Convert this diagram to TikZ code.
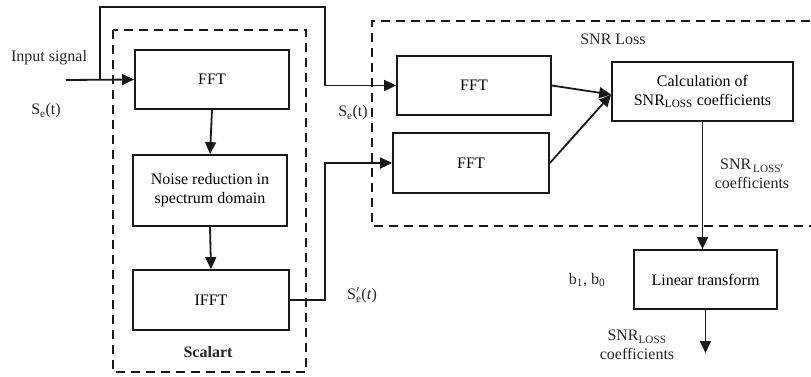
\documentclass[tikz,border=0pt]{standalone}
\usepackage{fontspec}
\setmainfont{Liberation Serif}
\usepackage{tikz}
\usetikzlibrary{arrows.meta,positioning}

\tikzset{
    blk/.style={draw=black!90, line width=1.8pt, fill=white, align=center,
        inner sep=2pt, font=\fontsize{16}{19}\selectfont},
    arr/.style={draw=black!90, line width=1.8pt,
        -{Triangle[length=12pt,width=11pt]}},
    grp/.style={draw=black!90, line width=1.4pt, dash pattern=on 9pt off 6pt},
    lbl/.style={align=center, text=black!85, inner sep=0pt,
        font=\fontsize{16}{19}\selectfont}
}

\begin{document}
\begin{tikzpicture}[x=1pt,y=-1pt]
        \useasboundingbox (0,0) rectangle (811,376);

        \draw[grp] (113,30) rectangle (306,372);
        \draw[grp] (825,21) -- (372,21) -- (372,226) -- (825,226);

        \node[blk, minimum width=154, minimum height=59] (fft1) at (212,79.5) {FFT};
        \node[blk, minimum width=154, minimum height=71] (noise) at (210,190.5) {Noise reduction in\\spectrum domain};
        \node[blk, minimum width=156, minimum height=60] (ifft) at (211,300) {IFFT};
        \node[blk, minimum width=154, minimum height=59] (fft2) at (474,85.5) {FFT};
        \node[blk, minimum width=156, minimum height=60] (fft3) at (471,163) {FFT};
        \node[blk, minimum width=181, minimum height=59] (calc) at (702.5,91.5) {Calculation of\\SNR\textsubscript{LOSS} coefficients};
        \node[blk, minimum width=143, minimum height=59] (lin) at (705.5,279.5) {Linear transform};

        \coordinate (in) at (66,80);
        \coordinate (split) at (100,80);
        \coordinate (topr) at (325,7);
        \coordinate (bend) at (325,297);
        \coordinate (calcin) at ([yshift=-3pt]calc.west);
        \coordinate (outend) at (702,353);

        \draw[arr] (in) -- (fft1.west);
        \draw[arr] (split) |- (topr) |- (fft2.west);
        \draw[arr] (fft1.south) -- (noise.north);
        \draw[arr] (noise.south) -- (ifft.north);
        \draw[arr] (ifft.east) -| (bend |- fft3.west) -- (fft3.west);
        \draw[arr] (fft2.east) -- (calcin);
        \draw[arr] (fft3.east) -- (calcin);
        \draw[arr] (calc.south) -- (calc.south |- lin.north);
        \draw[arr] (lin.south) -- (lin.south |- outend);

        \node[lbl] (insig) at (49,58) {Input signal};
        \node[lbl] (sin) at (46,111) {S\textsubscript{e}(t)};
        \node[lbl] (sfb) at (353,113) {S\textsubscript{e}(t)};
        \node[lbl] (sout) at (362,295) {S\rlap{\textsuperscript{$\prime$}}\textsubscript{e}(\textit{t})};
        \node[lbl, font=\fontsize{16}{19}\selectfont\bfseries] (scalart) at (208,352) {Scalart};
        \node[lbl] (snrloss) at (613,39) {SNR Loss};
        \node[lbl] (coef1) at (752,174) {SNR\textsubscript{\,LOSS$'$}\\coefficients};
        \node[lbl] (bb) at (587,280) {b\textsubscript{1}, b\textsubscript{0}};
        \node[lbl] (coef2) at (637,345) {SNR\textsubscript{LOSS}\\coefficients};

    \end{tikzpicture}
\end{document}
